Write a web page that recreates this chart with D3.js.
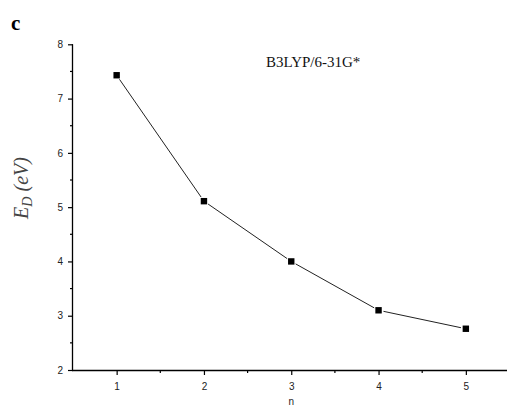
<!DOCTYPE html>
<html><head><meta charset="utf-8">
<script src="https://cdn.jsdelivr.net/npm/d3@7"></script>
<style>body{margin:0;background:#fff}svg{display:block}</style>
</head><body><svg id="c" width="507" height="407"></svg>
<script>
const nValues = [1, 2, 3, 4, 5];
const edValues = [7.43, 5.11, 4.0, 3.10, 2.76];
const xTicks = [1, 2, 3, 4, 5];
const yTicks = [2, 3, 4, 5, 6, 7, 8];

const svg = d3.select("#c");
const x = d3.scaleLinear().domain([0.5, 5.5]).range([73, 509.5]);
const y = d3.scaleLinear().domain([2, 8]).range([370, 44.3]);

// axes
const xAxis = d3.axisBottom(x).tickValues(xTicks).tickSize(5).tickFormat(d3.format("d"));
const gx = svg.append("g").attr("transform", "translate(0,370)").call(xAxis);
const yAxis = d3.axisLeft(y).tickValues(yTicks).tickSize(5).tickFormat(d3.format("d"));
const gy = svg.append("g").attr("transform", "translate(73,0)").call(yAxis);
[gx, gy].forEach(g => {
  g.select(".domain").attr("stroke", "#000").attr("stroke-width", 1.3);
  g.selectAll(".tick line").attr("stroke", "#000").attr("stroke-width", 1.2);
  g.selectAll(".tick text").attr("font-family", "Liberation Sans, Arial, sans-serif")
    .attr("font-size", 10).attr("fill", "#222");
});
gy.select(".domain").attr("d", `M-0.5,${y(8)}V${y(2) + 0.5}`);
gx.select(".domain").attr("d", `M${x(0.5) - 1},0.5H${x(5.5)}`);
gx.selectAll(".tick text").attr("dy", "1.2em");
gy.selectAll(".tick text").attr("dx", "-0.2em");

// minor ticks
const xMinor = [1.5, 2.5, 3.5, 4.5];
svg.append("g").selectAll("line").data(xMinor).join("line")
  .attr("x1", d => x(d)).attr("x2", d => x(d)).attr("y1", 370).attr("y2", 373)
  .attr("stroke", "#000").attr("stroke-width", 1.2);
const yMinor = [2.5, 3.5, 4.5, 5.5, 6.5, 7.5];
svg.append("g").selectAll("line").data(yMinor).join("line")
  .attr("x1", 70).attr("x2", 73).attr("y1", d => y(d)).attr("y2", d => y(d))
  .attr("stroke", "#000").attr("stroke-width", 1.2);

// line segments with gaps near markers
const pts = nValues.map((n, i) => [x(n), y(edValues[i])]);
const gap = 5;
const segs = d3.pairs(pts).map(([a, b]) => {
  const dx = b[0] - a[0], dy = b[1] - a[1], L = Math.hypot(dx, dy);
  const ux = dx / L, uy = dy / L;
  return [a[0] + ux * gap, a[1] + uy * gap, b[0] - ux * gap, b[1] - uy * gap];
});
svg.append("g").selectAll("line").data(segs).join("line")
  .attr("x1", d => d[0]).attr("y1", d => d[1]).attr("x2", d => d[2]).attr("y2", d => d[3])
  .attr("stroke", "#222").attr("stroke-width", 1);

// markers
svg.append("g").selectAll("rect").data(pts).join("rect")
  .attr("x", d => d[0] - 3.2).attr("y", d => d[1] - 3.2)
  .attr("width", 6.4).attr("height", 6.4).attr("fill", "#000");

// labels
svg.append("text").attr("x", 11).attr("y", 30).text("c")
  .attr("font-family", "Liberation Serif, Times New Roman, serif").attr("font-weight", "bold")
  .attr("font-size", 21).attr("fill", "#000");

svg.append("text").attr("x", 266).attr("y", 67).text("B3LYP/6-31G*")
  .attr("font-family", "Liberation Serif, Times New Roman, serif")
  .attr("font-size", 15).attr("fill", "#111");

const yl = svg.append("text").attr("transform", "translate(28,188) rotate(-90)")
  .attr("text-anchor", "middle")
  .attr("font-family", "Liberation Serif, Times New Roman, serif")
  .attr("font-style", "italic").attr("font-size", 20).attr("fill", "#444");
yl.append("tspan").text("E");
yl.append("tspan").text("D").attr("font-size", 14).attr("dy", 4);
yl.append("tspan").text(" (eV)").attr("dy", -4);

svg.append("text").attr("x", x(3)).attr("y", 405).attr("text-anchor", "middle").text("n")
  .attr("font-family", "Liberation Sans, Arial, sans-serif").attr("font-size", 10).attr("fill", "#222");
</script></body></html>
